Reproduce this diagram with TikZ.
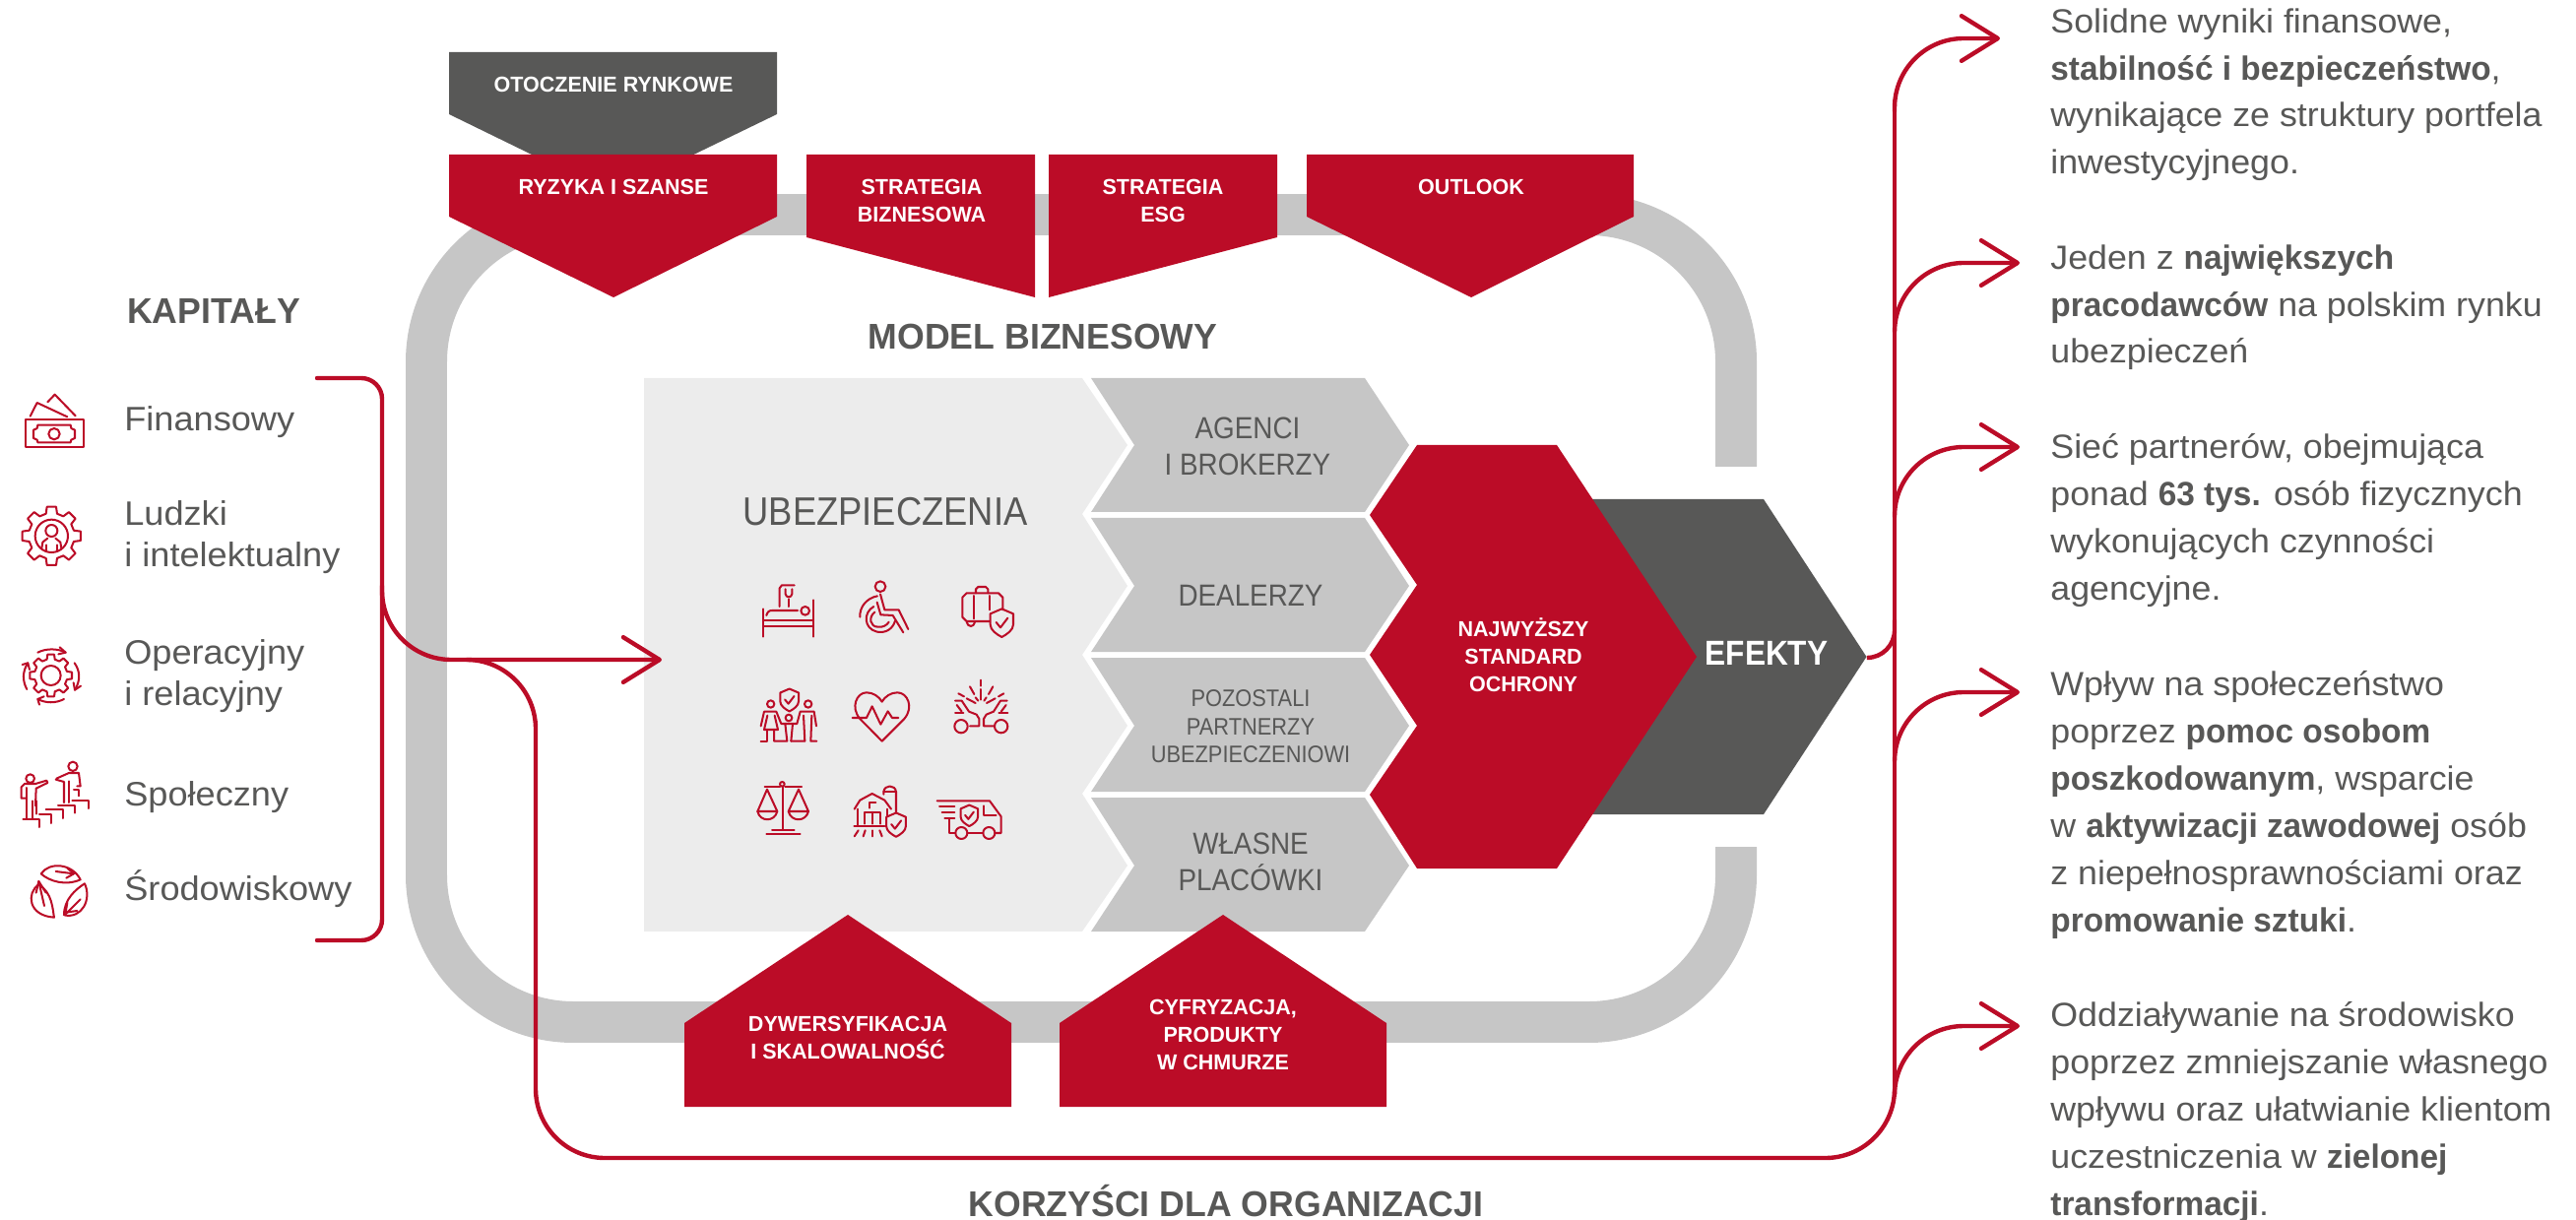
\documentclass[tikz,border=0pt]{standalone}
\usepackage{fontspec}
\setmainfont{Liberation Sans}[FakeStretch=1.05, BoldFeatures={FakeStretch=0.98}]
\newfontfamily\waska{Liberation Sans}[FakeStretch=0.9, BoldFeatures={FakeStretch=0.9}]
\usetikzlibrary{arrows.meta}
\definecolor{czerwony}{HTML}{BB0C27}
\definecolor{grafit}{HTML}{585857}
\definecolor{szary}{HTML}{C6C6C6}
\definecolor{jasny}{HTML}{ECECEC}
\tikzset{
    linia/.style={draw=czerwony, line width=2.5pt, line cap=round, rounded corners=40pt},
    grot/.style={-{Straight Barb[length=21pt, width=26pt, round]}},
    ikona/.style={draw=czerwony, line width=1.15pt, line cap=round, line join=round},
    biala/.style={text=white, font=\bfseries\fontsize{12.5}{15.9}\selectfont, align=center, inner sep=0pt},
    tytul/.style={text=grafit, font=\bfseries\fontsize{20.7}{25}\selectfont, inner sep=0pt},
    lewa/.style={text=grafit, font=\fontsize{19.6}{24}\selectfont, align=left, inner sep=0pt, anchor=north west},
    kanal/.style={text=grafit, font=\waska\fontsize{17.6}{21}\selectfont, align=center, inner sep=0pt},
    opis/.style={text=grafit, font=\fontsize{19.4}{27.3}\selectfont, align=left, inner sep=0pt, anchor=north west},
    tarcza/.pic={
        \draw (0,-43) -- (35,-28) -- (35,5) .. controls (35,22) and (15,35) .. (0,43) .. controls (-15,35) and (-35,22) .. (-35,5) -- (-35,-28) -- cycle;
        \draw (-17,-2) -- (-4,14) -- (18,-15);
    },
    kolo/.pic={
        \draw (-14:70) -- (-9:90) -- (9:90) -- (14:70) -- (31:70) -- (36:90) -- (54:90) -- (59:70)
        -- (76:70) -- (81:90) -- (99:90) -- (104:70) -- (121:70) -- (126:90) -- (144:90) -- (149:70)
        -- (166:70) -- (171:90) -- (189:90) -- (194:70) -- (211:70) -- (216:90) -- (234:90) -- (239:70)
        -- (256:70) -- (261:90) -- (279:90) -- (284:70) -- (301:70) -- (306:90) -- (324:90) -- (329:70) -- cycle;
    }
}
\begin{document}
\begin{tikzpicture}[x=0.02cm, y=-0.02cm]
    \useasboundingbox (0,0) rectangle (2616,1239);

    \draw[szary, line width=42*0.569pt, rounded corners=85pt] (1763,474) -- (1763,218) -- (433,218) -- (433,1038) -- (1763,1038) -- (1763,860);

    \fill[jasny] (654,384) -- (1099,384) -- (1145,452) -- (1099,522) -- (1145,595) -- (1099,665) -- (1145,737) -- (1099,806) -- (1145,879) -- (1099,946) -- (654,946) -- cycle;
    \fill[szary] (1108,384) -- (1386,384) -- (1431,452) -- (1386,520) -- (1108,520) -- (1152,452) -- cycle;
    \fill[szary] (1108,526) -- (1386,526) -- (1431,595) -- (1386,662) -- (1108,662) -- (1152,595) -- cycle;
    \fill[szary] (1108,668) -- (1386,668) -- (1431,737) -- (1386,804) -- (1108,804) -- (1152,737) -- cycle;
    \fill[szary] (1108,810) -- (1386,810) -- (1431,879) -- (1386,946) -- (1108,946) -- (1152,879) -- cycle;

    \fill[grafit] (1500,507) -- (1791,507) -- (1895.5,667) -- (1791,827) -- (1500,827) -- cycle;
    \fill[czerwony] (1439,452) -- (1581,452) -- (1723,667) -- (1581,882) -- (1439,882) -- (1391,807) -- (1439,737) -- (1391,665) -- (1439,594) -- (1391,523) -- cycle;

    \fill[grafit] (456,53) -- (789,53) -- (789,116) -- (622,197) -- (456,116) -- cycle;
    \fill[czerwony] (456,157) -- (789,157) -- (789,220) -- (623,302) -- (456,220) -- cycle;
    \fill[czerwony] (819,157) -- (1051,157) -- (1051,302) -- (819,241) -- cycle;
    \fill[czerwony] (1065,157) -- (1297,157) -- (1297,241) -- (1065,302) -- cycle;
    \fill[czerwony] (1327,157) -- (1659,157) -- (1659,220) -- (1494,302) -- (1327,220) -- cycle;
    \fill[czerwony] (861,929) -- (1027,1039) -- (1027,1124) -- (695,1124) -- (695,1039) -- cycle;
    \fill[czerwony] (1242,929) -- (1408,1039) -- (1408,1124) -- (1076,1124) -- (1076,1039) -- cycle;

    \node[biala] (otoczenie) at (623,86) {OTOCZENIE RYNKOWE};
    \node[biala] (ryzyka) at (623,190) {RYZYKA I SZANSE};
    \node[biala] (biznesowa) at (936,204) {STRATEGIA\\BIZNESOWA};
    \node[biala] (esg) at (1181,204) {STRATEGIA\\ESG};
    \node[biala] (outlook) at (1494,190) {OUTLOOK};
    \node[biala] (dywersyfikacja) at (861,1054) {DYWERSYFIKACJA\\I SKALOWALNOŚĆ};
    \node[biala] (cyfryzacja) at (1242,1051) {CYFRYZACJA,\\PRODUKTY\\W CHMURZE};
    \node[biala] (standard) at (1547,665) {NAJWYŻSZY\\STANDARD\\OCHRONY};
    \node[biala, font=\waska\bfseries\fontsize{20}{25}\selectfont] (efekty) at (1794,663) {EFEKTY};

    \node[tytul] (kapitaly) at (217,316) {KAPITAŁY};
    \node[tytul] (model) at (1059,342) {MODEL BIZNESOWY};
    \node[tytul, anchor=base] (korzysci) at (1245,1235) {KORZYŚCI DLA ORGANIZACJI};

    \node[kanal, font=\waska\fontsize{23}{27}\selectfont] (ubezpieczenia) at (899,520) {UBEZPIECZENIA};
    \node[kanal] (agenci) at (1267,453) {AGENCI\\I BROKERZY};
    \node[kanal] (dealerzy) at (1270,605) {DEALERZY};
    \node[kanal, font=\waska\fontsize{13.8}{16.2}\selectfont] (pozostali) at (1270,738) {POZOSTALI\\PARTNERZY\\UBEZPIECZENIOWI};
    \node[kanal] (placowki) at (1270,875) {WŁASNE\\PLACÓWKI};

    \node[lewa, anchor=base west] (finansowy) at (126,438) {Finansowy};
    \node[lewa] (ludzki) at (126,508) {Ludzki\\i intelektualny};
    \node[lewa] (operacyjny) at (126,649) {Operacyjny\\i relacyjny};
    \node[lewa, anchor=base west] (spoleczny) at (126,818) {Społeczny};
    \node[lewa, anchor=base west] (srodowiskowy) at (126,914) {Środowiskowy};

    \node[opis] (wyniki) at (2082,8) {Solidne wyniki finansowe,\\\textbf{stabilność i bezpieczeństwo},\\wynikające ze struktury portfela\\inwestycyjnego.};
    \node[opis] (pracodawcy) at (2082,248) {Jeden z \textbf{największych}\\\textbf{pracodawców} na polskim rynku\\ubezpieczeń};
    \node[opis] (siec) at (2082,440) {Sieć partnerów, obejmująca\\ponad \textbf{63 tys.} osób fizycznych\\wykonujących czynności\\agencyjne.};
    \node[opis] (wplyw) at (2082,681) {Wpływ na społeczeństwo\\poprzez \textbf{pomoc osobom}\\\textbf{poszkodowanym}, wsparcie\\w \textbf{aktywizacji zawodowej} osób\\z niepełnosprawnościami oraz\\\textbf{promowanie sztuki}.};
    \node[opis] (srodowisko) at (2082,1017) {Oddziaływanie na środowisko\\poprzez zmniejszanie własnego\\wpływu oraz ułatwianie klientom\\uczestniczenia w \textbf{zielonej}\\\textbf{transformacji}.};

    \coordinate (kapG) at (322,384);
    \coordinate (kapP) at (388,384);
    \coordinate (kapK) at (388,955);
    \coordinate (kapD) at (322,955);
    \coordinate (wejscie) at (388,595);
    \coordinate (ubez) at (672,670);
    \coordinate (odnoga) at (474,670);
    \coordinate (rogL) at (544,1176);
    \coordinate (rogP) at (1924,1176);
    \coordinate (pion) at (1924,1106);
    \coordinate (tipE) at (1896,668);
    \coordinate (pionE) at (1924,630);
    \coordinate (start1) at (1924,113);
    \coordinate (start2) at (1924,335);
    \coordinate (start3) at (1924,525);
    \coordinate (start4) at (1924,772);
    \coordinate (start5) at (1924,1112);
    \coordinate (cel1) at (2031,39);
    \coordinate (cel2) at (2051,267);
    \coordinate (cel3) at (2051,454);
    \coordinate (cel4) at (2051,703);
    \coordinate (cel5) at (2051,1042);

    \draw[linia, rounded corners=12pt] (kapG) -- (kapP) -- (kapK) -- (kapD);
    \draw[linia, grot] (wejscie) |- (ubez);
    \draw[linia] (odnoga) -| (rogL) -- (rogP) -- (pion);
    \draw[linia, rounded corners=16pt] (tipE) -| (pionE);
    \draw[linia, rounded corners=0pt] (start1) -- (pion);
    \draw[linia, grot] (start1) |- (cel1);
    \draw[linia, grot] (start2) |- (cel2);
    \draw[linia, grot] (start3) |- (cel3);
    \draw[linia, grot] (start4) |- (cel4);
    \draw[linia, grot] (start5) |- (cel5);

    \begin{scope}[shift={(10,390)}, scale=1/3, ikona]
        \draw (47,108) rectangle (225,193);
        \draw (85,125) -- (185,125) -- (187,135) -- (198,140) -- (198,165) -- (187,170) -- (185,178) -- (85,178) -- (83,170) -- (72,165) -- (72,140) -- (83,135) -- cycle;
        \draw (135,152) circle (17);
        \draw (62,98) -- (83,57) -- (175,100);
        \draw (115,55) -- (137,32) -- (200,97);
        \pic[scale=.333] at (127,463) {kolo};
        \draw (127,463) circle (50);
        \draw (127,447) circle (18);
        \draw (97,500) -- (100,482) -- (115,470);
        \draw (157,500) -- (154,482) -- (139,470);
        \draw (110,490) -- (110,510);
        \draw (144,490) -- (144,510);
    \end{scope}

    \begin{scope}[shift={(10,650)}, scale=1/3, ikona]
        \pic[scale=.24] at (125,108) {kolo};
        \draw (125,108) circle (30);
        \draw (85,38) .. controls (110,25) and (145,25) .. (170,38);
        \draw (152,22) -- (170,38) -- (148,43);
        \draw (197,70) .. controls (215,95) and (215,125) .. (198,152);
        \draw (216,140) -- (198,152) -- (194,130);
        \draw (165,180) .. controls (140,193) and (110,193) .. (85,180);
        \draw (104,172) -- (85,180) -- (90,197);
        \draw (52,150) .. controls (38,125) and (38,95) .. (55,70);
        \draw (38,75) -- (55,70) -- (60,90);
        \draw (62,422) circle (13);
        \draw (50,482) -- (35,482) -- (35,448) -- (45,438) -- (78,438) -- (112,428) -- (115,435) -- (80,452) -- (78,505);
        \draw (52,450) -- (52,545);
        \draw (68,490) -- (68,545);
        \draw (80,490) -- (80,530);
        \draw (40,547) -- (90,547) -- (90,570);
        \draw (90,530) -- (125,530) -- (125,558);
        \draw (110,517) -- (162,517) -- (162,543);
        \draw (147,503) -- (197,503) -- (197,527);
        \draw (190,488) -- (240,488) -- (240,513);
        \draw (192,385) circle (14);
        \draw (142,422) -- (180,405) -- (210,405) -- (215,445) -- (205,445);
        \draw (140,425) -- (165,432) -- (165,495);
        \draw (180,430) -- (180,495);
        \draw (195,455) -- (210,455) -- (210,475);
        \draw (95,712) .. controls (120,675) and (190,680) .. (215,730) .. controls (170,750) and (120,735) .. (95,712);
        \draw (140,705) -- (195,712);
        \draw (175,695) -- (195,712) -- (172,725);
        \draw (88,745) .. controls (50,770) and (55,840) .. (135,845) .. controls (130,820) and (130,770) .. (88,745);
        \draw (88,735) -- (105,810);
        \draw (80,770) -- (88,735) -- (110,770);
        \draw (228,742) .. controls (250,790) and (220,850) .. (165,838) .. controls (165,790) and (200,760) .. (228,742);
        \draw (215,790) -- (170,835);
        \draw (175,800) -- (170,830) -- (205,825);
    \end{scope}

    \begin{scope}[shift={(760,580)}, scale=1/3, ikona]
        \draw (45,115) -- (45,200);
        \draw (197,88) -- (197,200);
        \draw (45,150) -- (197,150);
        \draw (45,167) -- (197,167);
        \draw (55,135) .. controls (58,125) and (62,120) .. (72,120) -- (150,120);
        \draw (173,121) circle (13);
        \draw (95,108) -- (95,52) -- (102,43) -- (140,43);
        \draw (113,55) -- (113,70) .. controls (115,82) and (131,82) .. (133,70) -- (133,55);
        \draw (123,85) -- (123,108);

        \draw (402,47) circle (16);
        \draw (402,70) -- (415,118) -- (458,118) -- (487,177);
        \draw (392,95) -- (403,133) -- (440,135) -- (472,187);
        \draw (393,76) .. controls (360,82) and (338,110) .. (340,140);
        \draw (382,108) .. controls (350,125) and (350,175) .. (392,185) .. controls (420,190) and (440,175) .. (447,152);
        \draw (385,125) .. controls (365,140) and (370,170) .. (395,170) .. controls (410,172) and (422,165) .. (428,155);

        \draw (735,153) -- (665,153) -- (652,140) -- (652,80) -- (665,67) -- (762,67) -- (775,80) -- (775,118);
        \draw (693,67) -- (693,55) -- (700,48) -- (723,48) -- (730,55) -- (730,67);
        \draw (688,75) -- (688,145);
        \draw (736,75) -- (736,118);
        \draw (665,155) .. controls (668,172) and (688,172) .. (690,155);
        \pic[scale=.333] at (772,158) {tarcza};

        \pic[scale=.267] at (125,393) {tarcza};
        \draw (68,405) circle (11);
        \draw (182,405) circle (11);
        \draw (123,447) circle (10);
        \draw (38,472) -- (48,428) -- (85,428) -- (100,465) -- (148,465) -- (158,428) -- (200,428) -- (207,472);
        \draw (58,440) -- (48,483) -- (90,483) -- (80,440);
        \draw (58,483) -- (58,518) -- (38,518);
        \draw (78,483) -- (78,518) -- (118,518) -- (112,465);
        \draw (130,518) -- (135,465);
        \draw (130,518) -- (172,518) -- (168,440);
        \draw (193,440) -- (190,518) -- (208,518);

        \draw (407,518) -- (340,450) .. controls (310,415) and (330,370) .. (360,370) .. controls (380,370) and (398,382) .. (407,398) .. controls (416,382) and (434,370) .. (454,370) .. controls (485,370) and (505,415) .. (475,450) -- cycle;
        \draw (317,447) -- (360,447) -- (377,412) -- (403,467) -- (425,427) -- (438,447) -- (457,447);

        \draw (709,332) -- (709,350);
        \draw (709,360) -- (709,392);
        \draw (675,352) -- (688,375);
        \draw (745,352) -- (732,375);
        \draw (640,373) -- (657,382);
        \draw (778,373) -- (762,382);
        \draw (665,388) -- (692,402);
        \draw (752,388) -- (726,402);
        \draw (692,385) -- (700,395);
        \draw (725,385) -- (718,395);
        \draw (630,395) -- (650,395) -- (672,428) -- (695,437) -- (703,450) -- (703,472) -- (675,472);
        \draw (648,473) circle (20);
        \draw (630,432) -- (655,432);
        \draw (635,408) -- (650,428);
        \draw (788,395) -- (768,395) -- (747,428) -- (725,437) -- (717,450) -- (717,472) -- (748,472);
        \draw (770,473) circle (20);
        \draw (790,432) -- (763,432);
        \draw (785,408) -- (770,428);

        \draw (50,658) -- (96,658);
        \draw (112,658) -- (162,658);
        \draw (103,649) circle (7);
        \draw (105,655) -- (105,788);
        \draw (72,788) -- (140,788);
        \draw (55,802) -- (158,802);
        \draw (57,665) -- (28,732) -- (88,732) -- cycle;
        \draw (28,732) .. controls (35,765) and (80,765) .. (88,732);
        \draw (153,665) -- (122,732) -- (183,732) -- cycle;
        \draw (122,732) .. controls (130,765) and (175,765) .. (183,732);

        \draw (323,725) -- (340,698) -- (377,678) -- (415,698) -- (435,725);
        \draw (333,725) -- (333,775);
        \draw (423,725) -- (423,745);
        \draw (355,770) -- (355,735) -- (403,735) -- (403,770);
        \draw (378,735) -- (378,770);
        \draw (368,722) -- (368,705) -- (388,705);
        \draw (322,778) -- (415,778);
        \draw (335,790) -- (323,808);
        \draw (356,790) -- (350,808);
        \draw (378,790) -- (378,808);
        \draw (400,790) -- (407,808);
        \draw (412,680) -- (412,672) .. controls (415,650) and (447,650) .. (450,672) -- (450,735);
        \draw (412,672) -- (450,672);
        \pic[scale=.283] at (450,773) {tarcza};

        \draw (575,700) -- (735,700) -- (770,748) -- (770,798) -- (752,798);
        \draw (582,718) -- (628,718);
        \draw (590,735) -- (628,735);
        \draw (598,752) -- (628,752);
        \draw (715,798) -- (668,798);
        \draw (630,798) -- (613,798) -- (613,755);
        \draw (718,715) -- (718,745) -- (755,745);
        \draw (649,798) circle (18);
        \draw (733,798) circle (18);
        \pic[scale=.25] at (673,745) {tarcza};
    \end{scope}
\end{tikzpicture}
\end{document}
